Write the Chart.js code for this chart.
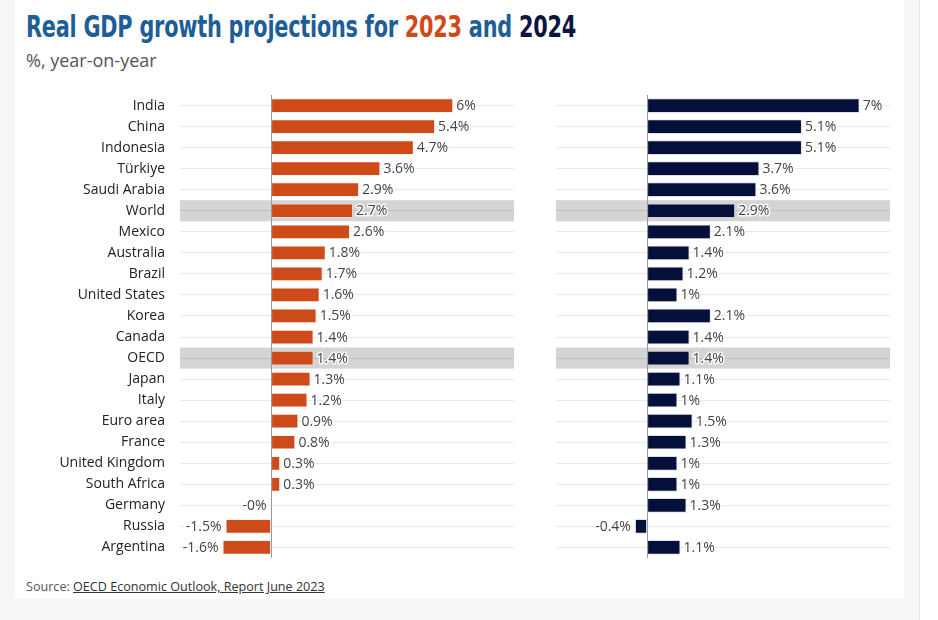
<!DOCTYPE html>
<html>
<head>
<meta charset="utf-8">
<script src="https://cdn.jsdelivr.net/npm/chart.js@4.4.0/dist/chart.umd.min.js"></script>
<style>
  html,body{margin:0;padding:0;background:#ffffff;}
  #page{position:relative;width:938px;height:620px;overflow:hidden;background:#ffffff;}
  #bg{position:absolute;left:0;top:0;width:919px;height:620px;background:#f7f7f7;border-right:1px solid #e6e6e6;}
  #card{position:absolute;left:15px;top:0;width:889px;height:599px;background:#ffffff;}
  #title{position:absolute;left:26px;top:8px;white-space:nowrap;font-family:'DejaVu Sans Condensed','DejaVu Sans',sans-serif;font-weight:bold;font-size:31px;color:#1d5e96;transform-origin:0 0;letter-spacing:-0.3px;}
  #title .y23{color:#cf4a17;}
  #title .y24{color:#0c1440;}
  #subtitle{position:absolute;left:26px;top:48px;font-family:'Open Sans','Noto Sans',sans-serif;font-size:18px;color:#555;white-space:nowrap;}
  #source{position:absolute;left:26px;top:578px;font-family:'Open Sans','Noto Sans',sans-serif;font-size:12.6px;color:#555;white-space:nowrap;}
  #source span{color:#333;text-decoration:underline;}
  canvas{position:absolute;left:0;top:0;}
</style>
</head>
<body>
<div id="page">
  <div id="bg"></div>
  <div id="card"></div>
  <div id="title">Real GDP growth projections for <span class="y23">2023</span> and <span class="y24">2024</span></div>
  <div id="subtitle">%, year-on-year</div>
  <div id="source">Source: <span>OECD Economic Outlook, Report June 2023</span></div>
  <canvas id="c1" width="938" height="620" style="width:938px;height:620px"></canvas>
  <canvas id="c2" width="938" height="620" style="width:938px;height:620px"></canvas>
</div>
<script>
// ---- data ----
const categories = ['India','China','Indonesia','Türkiye','Saudi Arabia','World','Mexico','Australia','Brazil','United States','Korea','Canada','OECD','Japan','Italy','Euro area','France','United Kingdom','South Africa','Germany','Russia','Argentina'];
const growth2023 = [6.0,5.4,4.7,3.6,2.9,2.7,2.6,1.8,1.7,1.6,1.5,1.4,1.4,1.3,1.2,0.9,0.8,0.3,0.3,-0.02,-1.5,-1.6];
const growth2024 = [7.0,5.1,5.1,3.7,3.6,2.9,2.1,1.4,1.2,1.0,2.1,1.4,1.4,1.1,1.0,1.5,1.3,1.0,1.0,1.3,-0.4,1.1];
const highlighted = ['World','OECD'];
const axisMin = -3, axisMax = 8;

// fit title width
(function(){
  const t = document.getElementById('title');
  const w = t.getBoundingClientRect().width;
  t.style.transform = 'scaleX(' + (550 / w) + ')';
})();

function fmt(v){
  const r = Math.round(Math.abs(v) * 10) / 10;
  return (v < 0 ? '-' : '') + r + '%';
}

const decorPlugin = {
  id: 'decor',
  beforeDraw(chart){
    const {ctx, chartArea, scales} = chart;
    const y = scales.y;
    const step = (chartArea.bottom - chartArea.top) / categories.length;
    ctx.save();
    ctx.fillStyle = '#d4d4d4';
    highlighted.forEach(name => {
      const i = categories.indexOf(name);
      const cy = y.getPixelForValue(i);
      ctx.fillRect(chartArea.left, cy - step / 2, chartArea.right - chartArea.left, step);
    });
    ctx.restore();
  },
  afterDatasetsDraw(chart){
    const {ctx, chartArea, scales} = chart;
    const x0 = Math.round(scales.x.getPixelForValue(0)) + 0.5;
    ctx.save();
    ctx.strokeStyle = '#9a9a9a';
    ctx.lineWidth = 1;
    ctx.beginPath();
    ctx.moveTo(x0, chartArea.top);
    ctx.lineTo(x0, chartArea.bottom);
    ctx.stroke();
    const meta = chart.getDatasetMeta(0);
    const data = chart.data.datasets[0].data;
    ctx.font = "14px 'Open Sans','Noto Sans',sans-serif";
    ctx.textBaseline = 'middle';
    ctx.lineJoin = 'round';
    meta.data.forEach((el, i) => {
      const v = data[i];
      const txt = fmt(v);
      let tx;
      if (v >= 0) { ctx.textAlign = 'left'; tx = el.x + 3; }
      else { ctx.textAlign = 'right'; tx = Math.min(el.x, x0) - 4; }
      ctx.strokeStyle = 'rgba(255,255,255,0.9)';
      ctx.lineWidth = 3;
      ctx.strokeText(txt, tx, el.y + 0.5);
      ctx.fillStyle = '#444444';
      ctx.fillText(txt, tx, el.y + 0.5);
    });
    ctx.restore();
  }
};

function makeChart(id, values, color, borderColor, padLeft, padRight, axisWidth, showLabels){
  return new Chart(document.getElementById(id), {
    type: 'bar',
    data: {
      labels: categories,
      datasets: [{
        data: values,
        backgroundColor: color,
        borderColor: borderColor,
        borderWidth: 1,
        borderSkipped: false,
        categoryPercentage: 1,
        barPercentage: 0.7
      }]
    },
    options: {
      indexAxis: 'y',
      responsive: false,
      animation: false,
      layout: { padding: { left: padLeft, right: padRight, top: 95, bottom: 62 } },
      plugins: { legend: { display: false }, tooltip: { enabled: false } },
      scales: {
        x: { display: false, min: axisMin, max: axisMax },
        y: {
          display: true,
          offset: true,
          grid: { offset: false, color: 'rgba(0,0,0,0.085)', drawTicks: false, lineWidth: 1 },
          border: { display: false },
          ticks: {
            display: showLabels,
            padding: 15,
            color: '#222222',
            font: { family: "'Open Sans','Noto Sans',sans-serif", size: 14 }
          },
          afterFit(s){ s.width = axisWidth; }
        }
      }
    },
    plugins: [decorPlugin]
  });
}

makeChart('c1', growth2023, '#cc4b19', 'rgba(255,235,225,0.6)', 0, 938 - 514, 180, true);
makeChart('c2', growth2024, '#04103a', 'rgba(200,205,225,0.6)', 0, 938 - 890, 556, false);
</script>
</body>
</html>
